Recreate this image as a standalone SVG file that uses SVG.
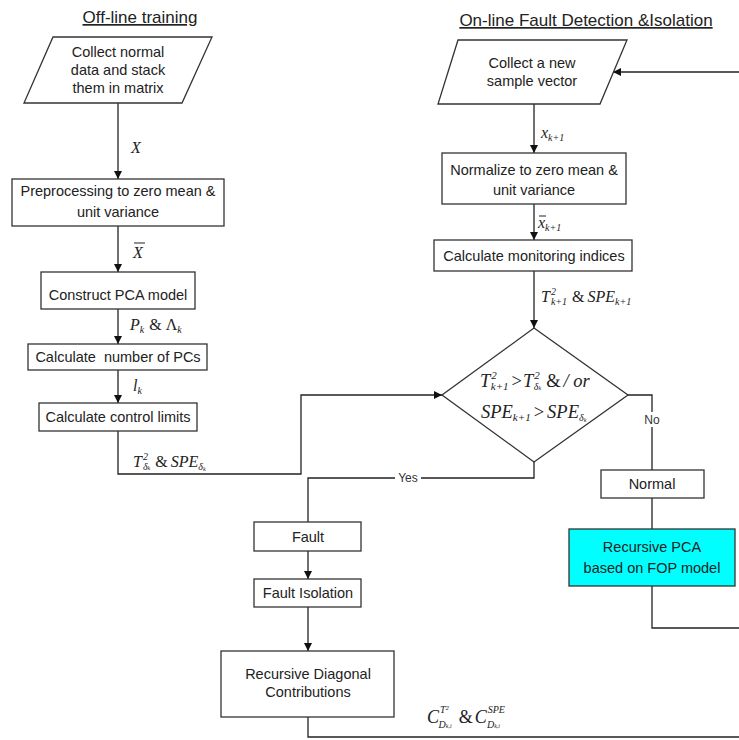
<svg xmlns="http://www.w3.org/2000/svg" width="739" height="740" viewBox="0 0 739 740">
<defs>
<marker id="arr" viewBox="0 0 10 10" refX="10" refY="5" markerWidth="8" markerHeight="8" markerUnits="userSpaceOnUse" orient="auto">
<path d="M0,0 L10,5 L0,10 z" fill="#111"/>
</marker>
<style>
.box{fill:#fff;stroke:#333;stroke-width:1.3}
.cyan{fill:#00FFFF;stroke:#333;stroke-width:1.3}
.ln{fill:none;stroke:#222;stroke-width:1.3}
.t{font-family:"Liberation Sans",Arial,sans-serif;font-size:14.5px;fill:#222;text-anchor:middle}
.ttl{font-family:"Liberation Sans",Arial,sans-serif;font-size:17px;fill:#222;text-anchor:middle;text-decoration:underline}
.m{font-family:"Liberation Serif","Times New Roman",serif;font-size:16px;font-style:italic;fill:#222}
.md{font-family:"Liberation Serif","Times New Roman",serif;font-size:18.5px;font-style:italic;fill:#222}
.up{font-style:normal}
.s{font-size:10px}
.lab{font-family:"Liberation Sans",Arial,sans-serif;font-size:12px;fill:#333;text-anchor:middle}
.bg{fill:#fff}
</style>
</defs>
<rect width="739" height="740" fill="#fff"/>

<text class="ttl" x="140" y="23">Off-line training</text>
<text class="ttl" x="586" y="26">On-line Fault Detection &amp;Isolation</text>

<g id="connectors">
<line class="ln" x1="118" y1="103" x2="118" y2="179" marker-end="url(#arr)"/>
<line class="ln" x1="118" y1="226" x2="118" y2="272" marker-end="url(#arr)"/>
<line class="ln" x1="118" y1="309" x2="118" y2="344" marker-end="url(#arr)"/>
<line class="ln" x1="118" y1="370" x2="118" y2="403" marker-end="url(#arr)"/>
<polyline class="ln" points="118,431 118,474 301,474 301,395 442,395" marker-end="url(#arr)"/>
<line class="ln" x1="739" y1="72" x2="613" y2="72" marker-end="url(#arr)"/>
<line class="ln" x1="534" y1="104" x2="534" y2="153" marker-end="url(#arr)"/>
<line class="ln" x1="534" y1="204" x2="534" y2="240" marker-end="url(#arr)"/>
<line class="ln" x1="534" y1="271" x2="534" y2="328" marker-end="url(#arr)"/>
<polyline class="ln" points="628,395 652,395 652,470"/>
<polyline class="ln" points="534,462 534,478 308,478 308,522"/>
<line class="ln" x1="308" y1="551" x2="308" y2="579" marker-end="url(#arr)"/>
<line class="ln" x1="308" y1="607" x2="308" y2="651" marker-end="url(#arr)"/>
<polyline class="ln" points="308,717 308,737 739,737"/>
<line class="ln" x1="652" y1="498" x2="652" y2="529"/>
<polyline class="ln" points="652,586 652,628 739,628"/>
<rect class="bg" x="643" y="412" width="18" height="15"/>
<text class="lab" x="652" y="424">No</text>
<rect class="bg" x="395" y="471" width="26" height="14"/>
<text class="lab" x="408" y="482">Yes</text>
</g>

<g id="labels">
<text class="m" x="131" y="153">X</text>
<text class="m" x="133" y="258">X</text>
<line x1="134" y1="243" x2="145" y2="243" stroke="#222" stroke-width="1"/>
<text class="m" x="130" y="330">P<tspan class="s" dy="3">k</tspan><tspan class="up" dx="5" dy="-3">&amp; Λ</tspan><tspan class="s" dy="3">k</tspan></text>
<text class="m" x="133" y="391">l<tspan class="s" dy="3">k</tspan></text>
<text class="m" x="133" y="467">T<tspan class="s" dx="1" dy="-7">2</tspan><tspan class="s" dx="-5" dy="10">δ</tspan><tspan class="s" style="font-size:6px">k</tspan><tspan class="up" dx="5" dy="-3">&amp;</tspan><tspan dx="3">SPE</tspan><tspan class="s" dy="3">δ</tspan><tspan class="s" style="font-size:6px" dy="1">k</tspan></text>
<text class="m" x="541" y="138">x<tspan class="s" dy="3">k+1</tspan></text>
<text class="m" x="538" y="228">x<tspan class="s" dy="3">k+1</tspan></text>
<line x1="539" y1="216" x2="546" y2="216" stroke="#222" stroke-width="1"/>
<text class="m" x="541" y="302">T<tspan class="s" dx="1" dy="-7">2</tspan><tspan class="s" dx="-5" dy="10">k+1</tspan><tspan class="up" dx="5" dy="-3">&amp;</tspan><tspan dx="3">SPE</tspan><tspan class="s" dy="3">k+1</tspan></text>
<text class="m" x="427" y="723" style="font-size:18px">C<tspan class="s" dx="1" dy="-10">T²</tspan><tspan class="s" dx="-10" dy="15">D</tspan><tspan style="font-size:6px">k,i</tspan><tspan class="up" dx="7" dy="-5">&amp;</tspan><tspan dx="2">C</tspan><tspan class="s" dx="1" dy="-10">SPE</tspan><tspan class="s" dx="-18" dy="15">D</tspan><tspan style="font-size:6px">k,i</tspan></text>
</g>

<g id="n1">
<polygon class="box" points="53,37 212,37 182,103 24,103"/>
<text class="t" x="118" y="57">Collect normal</text>
<text class="t" x="118" y="75">data and stack</text>
<text class="t" x="118" y="93">them in matrix</text>
</g>
<g id="n2">
<rect class="box" x="12" y="179" width="212" height="47"/>
<text class="t" x="118" y="196">Preprocessing to zero mean &amp;</text>
<text class="t" x="118" y="217">unit variance</text>
</g>
<g id="n3">
<rect class="box" x="41" y="272" width="154" height="37"/>
<text class="t" x="118" y="300">Construct PCA model</text>
</g>
<g id="n4">
<rect class="box" x="28" y="344" width="179" height="26"/>
<text class="t" x="118" y="362" xml:space="preserve">Calculate  number of PCs</text>
</g>
<g id="n5">
<rect class="box" x="39" y="403" width="158" height="28"/>
<text class="t" x="118" y="422">Calculate control limits</text>
</g>

<g id="n6">
<polygon class="box" points="458,40 627,40 600,104 438,104"/>
<text class="t" x="532" y="68">Collect a new</text>
<text class="t" x="532" y="86">sample vector</text>
</g>
<g id="n7">
<rect class="box" x="442" y="153" width="184" height="51"/>
<text class="t" x="534" y="175">Normalize to zero mean &amp;</text>
<text class="t" x="534" y="195">unit variance</text>
</g>
<g id="n8">
<rect class="box" x="434" y="240" width="198" height="31"/>
<text class="t" x="534" y="261">Calculate monitoring indices</text>
</g>
<g id="n9">
<polygon class="box" points="534,328 628,395 534,462 442,395"/>
<text class="md" x="480" y="387">T<tspan class="s" dx="1" dy="-8" style="font-size:11px">2</tspan><tspan class="s" dx="-6" dy="11" style="font-size:11px">k+1</tspan><tspan class="up" dx="3" dy="-3">&gt;</tspan><tspan dx="1">T</tspan><tspan class="s" dx="1" dy="-8" style="font-size:11px">2</tspan><tspan class="s" dx="-6" dy="11">δ</tspan><tspan style="font-size:6px">k</tspan><tspan class="up" dx="5" dy="-3">&amp;</tspan><tspan dx="3">/ or</tspan></text>
<text class="md" x="481" y="418">SPE<tspan class="s" dy="3" style="font-size:11px">k+1</tspan><tspan class="up" dx="3" dy="-3">&gt;</tspan><tspan dx="3">SPE</tspan><tspan class="s" dy="3">δ</tspan><tspan style="font-size:6px" dy="1">k</tspan></text>
</g>
<g id="n10">
<rect class="box" x="601" y="470" width="103" height="28"/>
<text class="t" x="652" y="489">Normal</text>
</g>
<g id="n11">
<rect class="cyan" x="569" y="529" width="166" height="57"/>
<text class="t" x="652" y="552">Recursive PCA</text>
<text class="t" x="652" y="573">based on FOP model</text>
</g>
<g id="n12">
<rect class="box" x="254" y="522" width="107" height="29"/>
<text class="t" x="308" y="542">Fault</text>
</g>
<g id="n13">
<rect class="box" x="254" y="579" width="107" height="28"/>
<text class="t" x="308" y="598">Fault Isolation</text>
</g>
<g id="n14">
<rect class="box" x="221" y="651" width="173" height="66"/>
<text class="t" x="308" y="679">Recursive Diagonal</text>
<text class="t" x="308" y="697">Contributions</text>
</g>
</svg>
